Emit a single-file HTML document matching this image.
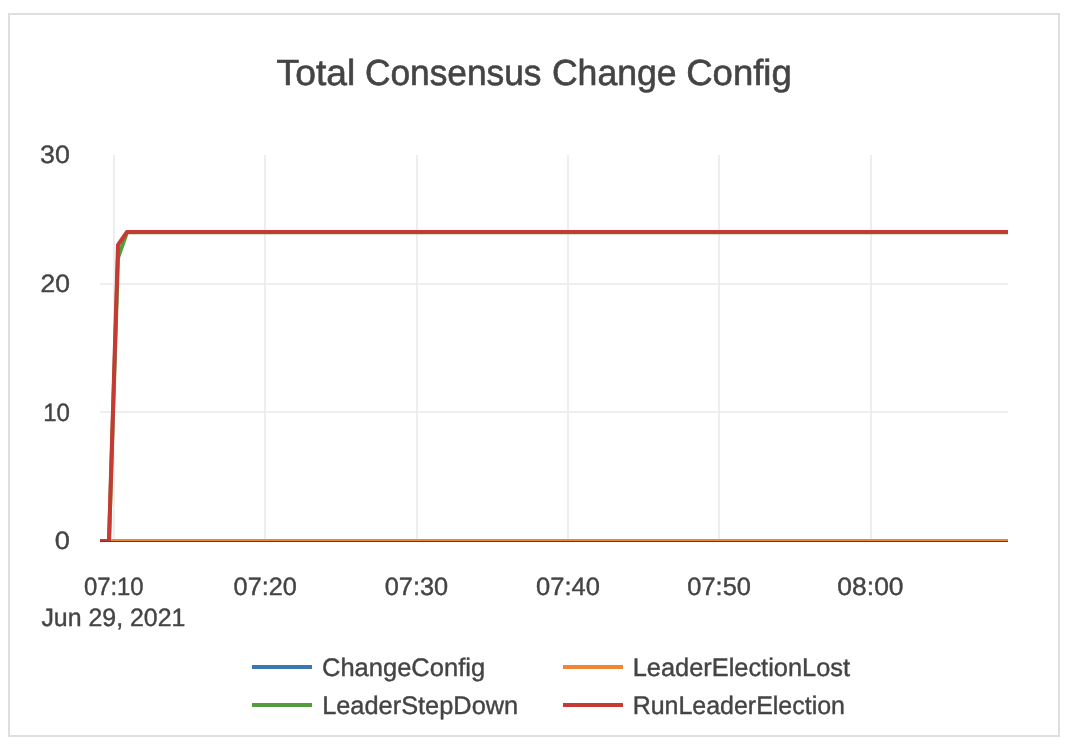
<!DOCTYPE html>
<html>
<head>
<meta charset="utf-8">
<style>
html,body{margin:0;padding:0;background:#fff;width:1070px;height:748px;overflow:hidden;}
svg{display:block;will-change:transform;}
text{text-rendering:geometricPrecision;font-family:"Liberation Sans", sans-serif;fill:#444;stroke:#444;stroke-width:0.4;}
</style>
</head>
<body>
<svg width="1070" height="748" viewBox="0 0 1070 748">
  <defs>
    <clipPath id="plot"><rect x="100" y="155" width="908" height="386"/></clipPath>
  </defs>
  <rect x="0" y="0" width="1070" height="748" fill="#fff"/>
  <rect x="9" y="14" width="1050" height="722" fill="none" stroke="#dedee0" stroke-width="2"/>
  <g fill="#eeeeee">
    <rect x="100" y="283" width="908" height="2"/>
    <rect x="100" y="411" width="908" height="2"/>
    <rect x="113" y="155" width="2" height="386"/>
    <rect x="264" y="155" width="2" height="386"/>
    <rect x="416" y="155" width="2" height="386"/>
    <rect x="567" y="155" width="2" height="386"/>
    <rect x="718" y="155" width="2" height="386"/>
    <rect x="870" y="155" width="2" height="386"/>
  </g>
  <rect x="100" y="540" width="908" height="2" fill="#444"/>
  <g clip-path="url(#plot)" fill="none" stroke-width="4" stroke-linejoin="round">
    <polyline stroke="#3a77b0" points="91,541 1010,541"/>
    <polyline stroke="#ee8636" points="91,541 1010,541"/>
    <polyline stroke="#529c3e" points="91,541 109,541 118,257.75 127,232.3 1010,232.3"/>
    <polyline stroke="#c63a33" points="91,541 109,541 118,244.9 127,232 1010,232"/>
  </g>
  <g stroke-width="4">
    <line x1="252" y1="667" x2="312" y2="667" stroke="#3a77b0"/>
    <line x1="252" y1="705" x2="312" y2="705" stroke="#529c3e"/>
    <line x1="563" y1="667" x2="623" y2="667" stroke="#ee8636"/>
    <line x1="563" y1="705" x2="623" y2="705" stroke="#c63a33"/>
  </g>
  <text x="276.58" y="85.00" font-size="36.3" style="stroke-width:0.6px" textLength="78.60" lengthAdjust="spacingAndGlyphs">Total</text>
  <text x="364.95" y="85.00" font-size="36.3" style="stroke-width:0.6px" textLength="176.57" lengthAdjust="spacingAndGlyphs">Consensus</text>
  <text x="551.90" y="85.00" font-size="36.3" style="stroke-width:0.6px" textLength="124.76" lengthAdjust="spacingAndGlyphs">Change</text>
  <text x="686.18" y="85.00" font-size="36.3" style="stroke-width:0.6px" textLength="105.64" lengthAdjust="spacingAndGlyphs">Config</text>
  <text x="40.12" y="163.00" font-size="25.0" textLength="29.84" lengthAdjust="spacingAndGlyphs">30</text>
  <text x="40.61" y="292.00" font-size="25.0" textLength="29.46" lengthAdjust="spacingAndGlyphs">20</text>
  <text x="43.24" y="421.00" font-size="25.0" textLength="26.76" lengthAdjust="spacingAndGlyphs">10</text>
  <text x="54.87" y="549.00" font-size="25.0" textLength="15.11" lengthAdjust="spacingAndGlyphs">0</text>
  <text x="83.89" y="595.00" font-size="25.0" textLength="59.77" lengthAdjust="spacingAndGlyphs">07:10</text>
  <text x="233.58" y="595.00" font-size="25.0" textLength="63.26" lengthAdjust="spacingAndGlyphs">07:20</text>
  <text x="384.71" y="595.00" font-size="25.0" textLength="63.50" lengthAdjust="spacingAndGlyphs">07:30</text>
  <text x="536.09" y="595.00" font-size="25.0" textLength="63.84" lengthAdjust="spacingAndGlyphs">07:40</text>
  <text x="687.35" y="595.00" font-size="25.0" textLength="63.62" lengthAdjust="spacingAndGlyphs">07:50</text>
  <text x="837.36" y="595.00" font-size="25.0" textLength="66.19" lengthAdjust="spacingAndGlyphs">08:00</text>
  <text x="41.39" y="626.00" font-size="25.0" textLength="144.05" lengthAdjust="spacingAndGlyphs">Jun 29, 2021</text>
  <text x="322.03" y="676.00" font-size="25.4" textLength="163.08" lengthAdjust="spacingAndGlyphs">ChangeConfig</text>
  <text x="322.15" y="714.00" font-size="25.4" textLength="196.06" lengthAdjust="spacingAndGlyphs">LeaderStepDown</text>
  <text x="632.68" y="676.00" font-size="25.4" textLength="217.36" lengthAdjust="spacingAndGlyphs">LeaderElectionLost</text>
  <text x="632.69" y="714.00" font-size="25.4" textLength="212.30" lengthAdjust="spacingAndGlyphs">RunLeaderElection</text>
</svg>
</body>
</html>
